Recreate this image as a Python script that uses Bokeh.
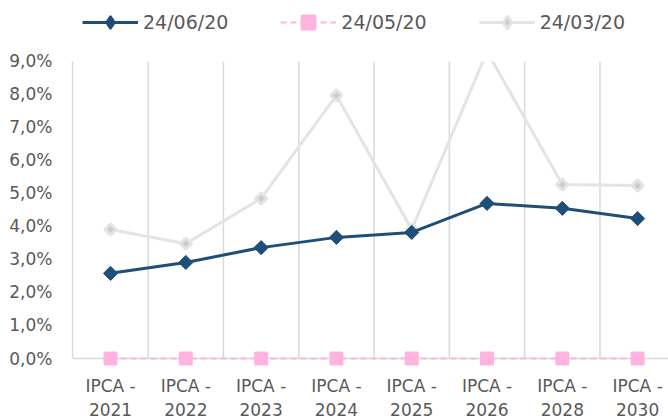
import math
from bokeh.plotting import figure
from bokeh.models import (FixedTicker, LinearAxis, Legend, LegendItem, Range1d, BoxAnnotation)
from bokeh.embed import file_html
from bokeh.resources import INLINE

categories = ["2021", "2022", "2023", "2024", "2025", "2026", "2028", "2030"]
prefix = "IPCA -"
s_jun = [2.58, 2.91, 3.36, 3.67, 3.82, 4.70, 4.55, 4.24]
s_may = [0.0, 0.0, 0.0, 0.0, 0.0, 0.0, 0.0, 0.0]
s_mar = [3.91, 3.48, 4.85, 7.97, 3.91, 9.30, 5.27, 5.24]
labels = ["24/06/20", "24/05/20", "24/03/20"]
y_ticks = [0, 1, 2, 3, 4, 5, 6, 7, 8, 9]

FONT = "DejaVu Sans"
TXT = "#595959"
BLUE = "#1F4E79"
PINK = "#FFB3DE"
GRAY_L = "#E4E4E4"
GRAY_F = "#CDCDCD"
GRID = "#D9D9D9"

xs = list(range(len(categories)))
X0, X1 = -0.505, 7.41
Y_TOP = y_ticks[-1]

p = figure(width=668, height=419, output_backend="svg", toolbar_location=None,
           x_range=Range1d(X0, X1), y_range=Range1d(-0.303, 10.848),
           min_border_left=72, min_border_top=0, min_border_right=0,
           min_border_bottom=51)
p.outline_line_color = None
p.background_fill_color = "white"
p.border_fill_color = "white"
p.xgrid.visible = False
p.ygrid.visible = False

# vertical separators between categories
gx = [i + 0.5 for i in xs]
p.segment(x0=gx, y0=[0] * len(gx), x1=gx, y1=[Y_TOP] * len(gx), line_color=GRID, line_width=1.5)

# x axis (two label rows)
ax1 = p.xaxis[0]
ax1.ticker = FixedTicker(ticks=xs)
ax1.major_label_overrides = {i: prefix for i in xs}
ax1.axis_line_color = None
ax1.major_tick_line_color = None
ax1.minor_tick_line_color = None
ax1.major_tick_out = 0
ax1.major_label_standoff = 7
ax1.major_label_text_font = FONT
ax1.major_label_text_font_size = "17px"
ax1.major_label_text_color = TXT

ax2 = LinearAxis(ticker=FixedTicker(ticks=xs),
                 major_label_overrides={i: c for i, c in zip(xs, categories)})
ax2.axis_line_color = None
ax2.major_tick_line_color = None
ax2.minor_tick_line_color = None
ax2.major_tick_out = 0
ax2.major_label_standoff = 4
ax2.major_label_text_font = FONT
ax2.major_label_text_font_size = "17px"
ax2.major_label_text_color = TXT
p.add_layout(ax2, "below")

ya = p.yaxis[0]
ya.ticker = FixedTicker(ticks=y_ticks)
ya.major_label_overrides = {t: f"{t},0%" for t in y_ticks}
ya.bounds = (0, Y_TOP)
ya.axis_line_color = GRID
ya.axis_line_width = 1.5
ya.major_tick_line_color = None
ya.minor_tick_line_color = None
ya.major_tick_out = 0
ya.major_label_standoff = 20
ya.major_label_text_font = FONT
ya.major_label_text_font_size = "17px"
ya.major_label_text_color = TXT

# baseline at 0
p.segment(x0=[X0], y0=[0], x1=[X1], y1=[0], line_color=GRID, line_width=1.5)

# series
l3 = p.line(xs, s_mar, line_color=GRAY_L, line_width=3)
m3 = p.scatter(xs, s_mar, marker="square", angle=math.pi / 4, size=8,
               fill_color=GRAY_F, line_color=GRAY_L, line_width=3)
l2 = p.line(xs, s_may, line_color=PINK, line_width=2, line_dash="6 4")
m2 = p.scatter(xs, s_may, marker="square", size=11, fill_color=PINK,
               line_color=PINK, line_width=3, line_join="round")
l1 = p.line(xs, s_jun, line_color=BLUE, line_width=3)
m1 = p.scatter(xs, s_jun, marker="square", angle=math.pi / 4, size=10,
               fill_color=BLUE, line_color=BLUE, line_width=1)

# legend-only diamond glyphs (the legend does not rotate markers)
k1 = p.scatter(xs, s_jun, marker="diamond", fill_color=BLUE, line_color=BLUE,
               line_width=2, visible=False)
k3 = p.scatter(xs, s_mar, marker="diamond", fill_color=GRAY_F, line_color=GRAY_L,
               line_width=3, visible=False)

# plot area ends at the top tick: mask anything above it
p.add_layout(BoxAnnotation(bottom=Y_TOP, fill_color="white", fill_alpha=1.0,
                           line_color=None))

legend = Legend(items=[
    LegendItem(label=labels[0], renderers=[l1, k1]),
    LegendItem(label=labels[1], renderers=[l2, m2]),
    LegendItem(label=labels[2], renderers=[l3, k3]),
], location=(10, 330), orientation="horizontal")
legend.glyph_width = 56
legend.glyph_height = 32
legend.label_standoff = 5
legend.spacing = 52
legend.padding = 0
legend.margin = 0
legend.border_line_color = None
legend.background_fill_alpha = 0
legend.label_text_font = FONT
legend.label_text_font_size = "19px"
legend.label_text_color = TXT
p.add_layout(legend)

open("out.html", "w").write(file_html(p, INLINE))
